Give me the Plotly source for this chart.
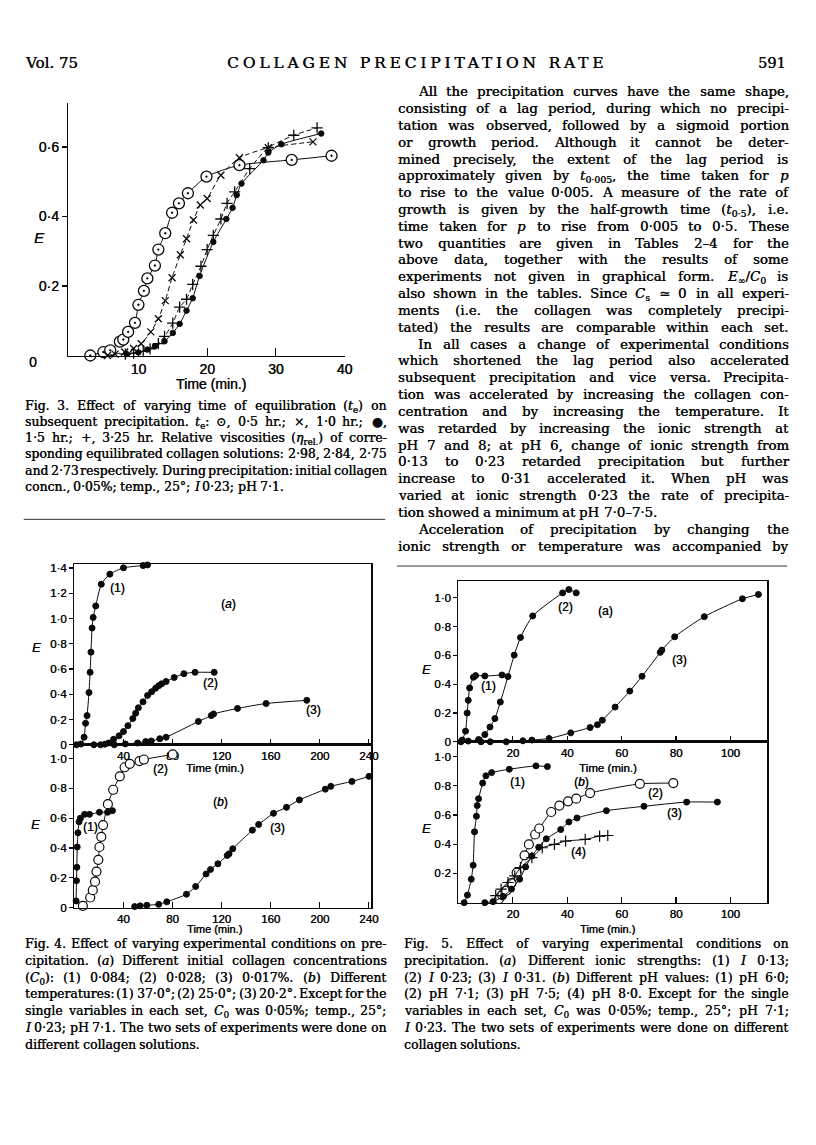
import re
import glob
import struct
import plotly.graph_objects as go

W, H = 816, 1145

# ================= DATA =================
# Fig. 3  -- time (min) vs E, four equilibration times
f3_t_05 = [3.0, 4.9, 5.9, 7.3, 7.8, 8.5, 9.5, 10.0, 10.8, 11.3, 12.4, 12.9, 13.9, 14.9, 15.9, 17.2, 19.9, 24.7, 32.3, 38.1]
f3_E_05 = [0.0, 0.010, 0.015, 0.040, 0.046, 0.068, 0.094, 0.146, 0.186, 0.222, 0.259, 0.305, 0.352, 0.411, 0.438, 0.467, 0.515, 0.548, 0.563, 0.575]
f3_t_10 = [5.5, 6.6, 8.0, 9.3, 10.4, 11.8, 12.9, 13.9, 14.9, 16.1, 17.0, 18.0, 19.0, 20.0, 22.0, 24.7, 28.9, 35.4]
f3_E_10 = [0.0, 0.004, 0.010, 0.020, 0.034, 0.068, 0.106, 0.158, 0.224, 0.290, 0.336, 0.390, 0.433, 0.452, 0.519, 0.569, 0.598, 0.615]
f3_t_15 = [8.3, 10.0, 11.3, 12.4, 13.8, 15.0, 16.0, 17.0, 17.9, 18.9, 20.9, 22.8, 23.7, 24.3, 25.0, 28.2, 28.9, 30.8, 36.6]
f3_E_15 = [0.004, 0.009, 0.017, 0.027, 0.041, 0.065, 0.091, 0.129, 0.165, 0.229, 0.327, 0.393, 0.425, 0.462, 0.495, 0.562, 0.584, 0.608, 0.639]
f3_t_325 = [8.1, 9.3, 10.7, 11.7, 12.9, 13.8, 15.0, 16.0, 17.0, 17.9, 19.1, 20.0, 20.9, 22.0, 22.9, 24.0, 26.2, 28.9, 32.6, 36.0]
f3_E_325 = [0.004, 0.007, 0.012, 0.019, 0.034, 0.055, 0.093, 0.139, 0.162, 0.205, 0.257, 0.305, 0.346, 0.393, 0.438, 0.471, 0.538, 0.598, 0.634, 0.655]

# Fig. 4 (a) -- collagen concentrations
f4a_t1 = [1.8, 5.4, 8.0, 9.2, 10.4, 12.0, 12.9, 13.6, 14.5, 15.4, 17.5, 22.0, 29.0, 40.1, 56.1, 59.7]
f4a_E1 = [0.0, 0.006, 0.06, 0.17, 0.231, 0.414, 0.574, 0.734, 0.925, 1.009, 1.10, 1.272, 1.352, 1.402, 1.42, 1.425]
f4a_t2 = [16.0, 21.4, 25.0, 28.0, 32.0, 36.5, 40.1, 43.7, 47.7, 50.0, 52.2, 56.0, 59.7, 63.0, 66.3, 68.8, 71.2, 74.8, 81.4, 89.3, 98.4, 114.0]
f4a_E2 = [0.0, 0.0, 0.005, 0.014, 0.043, 0.071, 0.105, 0.151, 0.208, 0.25, 0.293, 0.34, 0.391, 0.42, 0.448, 0.468, 0.483, 0.501, 0.533, 0.563, 0.574, 0.574]
f4a_t3 = [32.6, 41.6, 51.6, 58.2, 62.7, 69.7, 74.8, 101.1, 111.6, 113.5, 133.0, 156.3, 189.4]
f4a_E3 = [0.0, 0.007, 0.014, 0.025, 0.03, 0.048, 0.06, 0.185, 0.231, 0.244, 0.288, 0.327, 0.352]

# Fig. 4 (b) -- temperatures
f4b_t1 = [1.5, 1.8, 2.1, 2.4, 3.0, 3.9, 5.0, 8.4, 12.4, 20.5, 27.1, 31.1]
f4b_E1 = [0.045, 0.181, 0.271, 0.407, 0.502, 0.576, 0.60, 0.626, 0.626, 0.64, 0.64, 0.651]
f4b_t2 = [7.0, 13.0, 15.1, 16.9, 18.1, 19.6, 20.5, 22.0, 23.5, 27.4, 31.7, 37.1, 41.0, 45.2, 53.1, 56.7, 80.2]
f4b_E2 = [0.012, 0.068, 0.117, 0.174, 0.242, 0.321, 0.407, 0.475, 0.554, 0.694, 0.791, 0.881, 0.942, 0.965, 0.983, 0.994, 1.028]
f4b_t3 = [49.2, 53.7, 59.1, 68.8, 75.4, 91.4, 98.9, 107.4, 111.0, 117.0, 124.6, 126.1, 129.1, 145.1, 150.2, 162.3, 172.9, 183.4, 204.5, 209.0, 226.2, 240.1]
f4b_E3 = [0.007, 0.012, 0.016, 0.022, 0.039, 0.09, 0.142, 0.226, 0.256, 0.294, 0.35, 0.361, 0.395, 0.52, 0.558, 0.633, 0.673, 0.723, 0.795, 0.814, 0.847, 0.881]

# Fig. 5 (a) -- ionic strengths
f5a_t1 = [1.4, 2.6, 3.2, 3.6, 4.1, 5.5, 6.3, 9.7, 16.0]
f5a_E1 = [0.012, 0.074, 0.2, 0.288, 0.374, 0.448, 0.46, 0.457, 0.464]
f5a_t2 = [0.9, 3.6, 7.4, 9.7, 11.6, 13.4, 15.4, 18.2, 20.5, 22.8, 27.3, 38.3, 40.6, 43.3]
f5a_E2 = [0.0, 0.005, 0.016, 0.05, 0.103, 0.161, 0.276, 0.453, 0.602, 0.724, 0.874, 1.034, 1.057, 1.034]
f5a_t3 = [8.3, 11.7, 17.6, 23.7, 27.0, 33.3, 41.3, 48.4, 51.1, 52.9, 57.6, 63.0, 67.5, 74.2, 74.8, 79.5, 90.4, 104.4, 110.3]
f5a_E3 = [0.0, 0.0, 0.0, 0.007, 0.012, 0.023, 0.062, 0.099, 0.119, 0.15, 0.241, 0.352, 0.455, 0.621, 0.637, 0.729, 0.869, 0.993, 1.023]

# Fig. 5 (b) -- pH values
f5b_t1 = [2.1, 3.3, 4.7, 5.4, 5.9, 6.6, 6.9, 7.4, 8.9, 10.1, 12.2, 18.7, 28.5, 32.7]
f5b_E1 = [0.0, 0.052, 0.161, 0.256, 0.485, 0.592, 0.665, 0.712, 0.819, 0.869, 0.891, 0.914, 0.937, 0.932]
f5b_t2 = [14.9, 16.1, 17.6, 19.5, 21.4, 24.3, 25.9, 28.2, 29.7, 34.1, 37.1, 40.3, 43.3, 48.4, 66.7, 79.0]
f5b_E2 = [0.025, 0.052, 0.082, 0.134, 0.206, 0.324, 0.399, 0.467, 0.508, 0.621, 0.665, 0.694, 0.712, 0.751, 0.814, 0.819]
f5b_t3 = [9.7, 12.7, 16.4, 19.5, 22.5, 24.7, 27.0, 29.5, 32.3, 37.6, 40.6, 43.6, 54.4, 68.2, 83.9, 95.2]
f5b_E3 = [0.0, 0.007, 0.043, 0.093, 0.161, 0.245, 0.32, 0.38, 0.437, 0.501, 0.553, 0.58, 0.63, 0.66, 0.689, 0.689]
f5b_t4 = [13.7, 15.7, 18.2, 20.7, 22.8, 27.0, 30.8, 35.3, 39.4, 46.6, 51.9, 54.9]
f5b_E4 = [0.048, 0.093, 0.138, 0.184, 0.24, 0.308, 0.376, 0.399, 0.422, 0.433, 0.456, 0.46]

# tick values
f3_xticks = [10, 20, 30, 40]
f3_yticks = [0.2, 0.4, 0.6]
f4_xticks = [40, 80, 120, 160, 200, 240]
f4a_yticks = [0, 0.2, 0.4, 0.6, 0.8, 1.0, 1.2, 1.4]
f4b_yticks = [0, 0.2, 0.4, 0.6, 0.8, 1.0]
f5_xticks = [20, 40, 60, 80, 100]
f5a_yticks = [0, 0.2, 0.4, 0.6, 0.8, 1.0]
f5b_yticks = [0.2, 0.4, 0.6, 0.8, 1.0]

# ================= TEXT =================
HEAD_LEFT = "Vol. 75"
HEAD_TITLE = "COLLAGEN PRECIPITATION RATE"
HEAD_PAGE = "591"

BODY = [
    "All the precipitation curves have the same shape,",
    "consisting of a lag period, during which no precipi-",
    "tation was observed, followed by a sigmoid portion",
    "or growth period. Although it cannot be deter-",
    "mined precisely, the extent of the lag period is",
    "approximately given by <i>t</i><sub>0·005</sub>, the time taken for <i>p</i>",
    "to rise to the value 0·005. A measure of the rate of",
    "growth is given by the half-growth time (<i>t</i><sub>0·5</sub>), i.e.",
    "time taken for <i>p</i> to rise from 0·005 to 0·5. These",
    "two quantities are given in Tables 2–4 for the",
    "above data, together with the results of some",
    "experiments not given in graphical form. <i>E</i><sub>∞</sub>/<i>C</i><sub>0</sub> is",
    "also shown in the tables. Since <i>C</i><sub>s</sub> ≃ 0 in all experi-",
    "ments (i.e. the collagen was completely precipi-",
    "tated) the results are comparable within each set.",
    "In all cases a change of experimental conditions",
    "which shortened the lag period also accelerated",
    "subsequent precipitation and vice versa. Precipita-",
    "tion was accelerated by increasing the collagen con-",
    "centration and by increasing the temperature. It",
    "was retarded by increasing the ionic strength at",
    "pH 7 and 8; at pH 6, change of ionic strength from",
    "0·13 to 0·23 retarded precipitation but further",
    "increase to 0·31 accelerated it. When pH was",
    "varied at ionic strength 0·23 the rate of precipita-",
    "tion showed a minimum at pH 7·0–7·5.",
    "Acceleration of precipitation by changing the",
    "ionic strength or temperature was accompanied by",
]
BODY_INDENT = {0, 15, 26}
BODY_LAST = {25}

CAP3 = [
    "Fig. 3. Effect of varying time of equilibration (<i>t</i><sub>e</sub>) on",
    "subsequent precipitation. <i>t</i><sub>e</sub>: ⊙, 0·5 hr.; ×, 1·0 hr.; ●,",
    "1·5 hr.; +, 3·25 hr. Relative viscosities (<i>η</i><sub>rel.</sub>) of corre-",
    "sponding equilibrated collagen solutions: 2·98, 2·84, 2·75",
    "and 2·73 respectively. During precipitation: initial collagen",
    "concn., 0·05%; temp., 25°; <i>I</i> 0·23; pH 7·1.",
]
CAP4 = [
    "Fig. 4. Effect of varying experimental conditions on pre-",
    "cipitation. (<i>a</i>) Different initial collagen concentrations",
    "(<i>C</i><sub>0</sub>): (1) 0·084; (2) 0·028; (3) 0·017%. (<i>b</i>) Different",
    "temperatures: (1) 37·0°; (2) 25·0°; (3) 20·2°. Except for the",
    "single variables in each set, <i>C</i><sub>0</sub> was 0·05%; temp., 25°;",
    "<i>I</i> 0·23; pH 7·1. The two sets of experiments were done on",
    "different collagen solutions.",
]
CAP5 = [
    "Fig. 5. Effect of varying experimental conditions on",
    "precipitation. (<i>a</i>) Different ionic strengths: (1) <i>I</i> 0·13;",
    "(2) <i>I</i> 0·23; (3) <i>I</i> 0·31. (<i>b</i>) Different pH values: (1) pH 6·0;",
    "(2) pH 7·1; (3) pH 7·5; (4) pH 8·0. Except for the single",
    "variables in each set, <i>C</i><sub>0</sub> was 0·05%; temp., 25°; pH 7·1;",
    "<i>I</i> 0·23. The two sets of experiments were done on different",
    "collagen solutions.",
]

# ================= font metrics (for justified text) =================
def _parse_ttf(path):
    data = open(path, 'rb').read()
    num = struct.unpack('>H', data[4:6])[0]
    tables = {}
    for i in range(num):
        tag, _, off, _ln = struct.unpack('>4sIII', data[12 + 16 * i:28 + 16 * i])
        tables[tag] = off
    head = tables[b'head']
    upem = struct.unpack('>H', data[head + 18:head + 20])[0]
    hhea = tables[b'hhea']
    nhm = struct.unpack('>H', data[hhea + 34:hhea + 36])[0]
    hmtx = tables[b'hmtx']
    adv = [struct.unpack('>H', data[hmtx + 4 * i:hmtx + 4 * i + 2])[0] for i in range(nhm)]
    cmap = tables[b'cmap']
    nsub = struct.unpack('>H', data[cmap + 2:cmap + 4])[0]
    o = None
    for i in range(nsub):
        pid, eid, off = struct.unpack('>HHI', data[cmap + 4 + 8 * i:cmap + 12 + 8 * i])
        fmt = struct.unpack('>H', data[cmap + off:cmap + off + 2])[0]
        if fmt == 4 and pid in (0, 3):
            o = cmap + off
            break
    segx2 = struct.unpack('>H', data[o + 6:o + 8])[0]
    seg = segx2 // 2
    ends = struct.unpack('>%dH' % seg, data[o + 14:o + 14 + segx2])
    starts = struct.unpack('>%dH' % seg, data[o + 16 + segx2:o + 16 + 2 * segx2])
    deltas = struct.unpack('>%dh' % seg, data[o + 16 + 2 * segx2:o + 16 + 3 * segx2])
    ro_pos = o + 16 + 3 * segx2
    ros = struct.unpack('>%dH' % seg, data[ro_pos:ro_pos + segx2])

    def gid(c):
        for i in range(seg):
            if ends[i] >= c:
                if starts[i] > c:
                    return 0
                if ros[i] == 0:
                    return (c + deltas[i]) & 0xFFFF
                p = ro_pos + 2 * i + ros[i] + 2 * (c - starts[i])
                g = struct.unpack('>H', data[p:p + 2])[0]
                return (g + deltas[i]) & 0xFFFF if g else 0
        return 0

    cache = {}

    def width(ch):
        c = ord(ch)
        if c not in cache:
            g = gid(c) if c <= 0xFFFF else 0
            cache[c] = adv[min(g, nhm - 1)] / upem if g else 0.6
        return cache[c]
    return width


def _find_font(names):
    for n in names:
        for root in ('/usr/share/fonts', '/usr/local/share/fonts'):
            for p in glob.glob(root + '/**/' + n, recursive=True):
                try:
                    return _parse_ttf(p)
                except Exception:
                    pass
    return None


SERIF = "DejaVu Serif"
SANS = "Liberation Sans"
_w = _find_font(['DejaVuSerif.ttf'])
if _w is None:
    _w = lambda ch: 0.32 if ch == ' ' else 0.56
SERIF_W = _w

TAG = re.compile(r'(<[^>]+>)')


def text_em(s):
    scale, w = 1.0, 0.0
    for tok in TAG.split(s):
        if not tok:
            continue
        if tok.startswith('<'):
            t = tok.lower()
            if t in ('<sub>', '<sup>'):
                scale = 0.7
            elif t in ('</sub>', '</sup>'):
                scale = 1.0
            continue
        for ch in tok:
            w += SERIF_W(ch) * scale
    return w


INK = '#0a0a0a'
HEAVY = '0.35px 0px 0px #0a0a0a'
anns = []
shapes = []


def P(x, y):
    return x / W, 1 - y / H


def block(lines, x0, x1, y0, dy, max_size, indents=(), indent=0, last=None, min_space=0.4):
    """Justified block; each line uses max_size unless it cannot fit."""
    if last is None:
        last = {len(lines) - 1}
    for i, ln in enumerate(lines):
        words = ln.split(' ')
        ind = indent if i in indents else 0
        avail = x1 - x0 - ind
        em_words = sum(text_em(w) for w in words)
        em_min = em_words + (len(words) - 1) * SERIF_W(' ') * min_space
        size = min(max_size, avail / em_min)
        sp = SERIF_W(' ') * size
        ws = [text_em(w) * size for w in words]
        if i not in last and len(words) > 1:
            gap = max((avail - sum(ws)) / (len(words) - 1), sp * min_space)
        else:
            gap = sp
        x = x0 + ind
        yc = y0 + i * dy
        for w, wd in zip(words, ws):
            xx, yy = P(x, yc - 0.62 * max_size)
            anns.append(dict(text=w, x=xx, y=yy, xref='paper', yref='paper',
                             xanchor='left', yanchor='top', showarrow=False, borderpad=0,
                             font=dict(family=SERIF, size=size, color=INK, shadow=HEAVY)))
            x += wd + gap


def label(text, x, y, size, family=SANS, xanchor='center', xref='paper', yref='paper'):
    if xref == 'paper':
        x, y = P(x, y)
    anns.append(dict(text=text, x=x, y=y, xref=xref, yref=yref, xanchor=xanchor,
                     yanchor='middle', showarrow=False, borderpad=0,
                     font=dict(family=family, size=size, color=INK, shadow=HEAVY)))


# ---------- header ----------
HEAD_Y = 61
label(HEAD_LEFT, 24, HEAD_Y, 15, SERIF, 'left')
label('<span style="letter-spacing:3.8px">' + HEAD_TITLE + '</span>', 421, HEAD_Y, 15.5, SERIF)
anns.append(dict(text=HEAD_PAGE, x=P(795, 0)[0], y=P(0, HEAD_Y)[1], xref='paper', yref='paper',
                 xanchor='right', yanchor='middle', showarrow=False, borderpad=0,
                 font=dict(family=SERIF, size=14.5, color=INK, shadow=HEAVY)))

# ---------- body & captions ----------
COL_L = (24, 389)
COL_R = (401, 795)
block(BODY, COL_R[0], COL_R[1], 90, 16.95, 13.3, BODY_INDENT, 20, BODY_LAST)
block(CAP3, COL_L[0], COL_L[1], 405, 16.4, 12.4)
block(CAP4, COL_L[0], COL_L[1], 947, 17.0, 12.4)
block(CAP5, COL_R[0] + 6, COL_R[1], 947, 17.0, 12.4)

for (xa, xb, yy) in [(24, 389, 521), (401, 795, 568)]:
    shapes.append(dict(type='line', xref='paper', yref='paper', x0=xa / W, x1=xb / W,
                       y0=1 - yy / H, y1=1 - yy / H, line=dict(color='#333', width=1)))

# ================= axes =================
def xdom(a, b):
    return [a / W, b / W]


def ydom(top, bottom):
    return [1 - bottom / H, 1 - top / H]


def fmt(v):
    if v == 0:
        return '0'
    if float(v).is_integer() and v >= 5:
        return str(int(v))
    return ('%.1f' % v).replace('.', '·')


def axis(domain, rng, anchor, tickvals, ticks, ticklen, mirror, fs, lw=1.3):
    return dict(domain=domain, range=rng, anchor=anchor, showline=True, linecolor=INK,
                linewidth=lw, mirror=mirror, ticks=ticks, ticklen=ticklen, tickwidth=1.2,
                tickcolor=INK, tickvals=tickvals, ticktext=[fmt(v) for v in tickvals],
                tickfont=dict(family=SANS, size=fs, color=INK, shadow=HEAVY), showgrid=False,
                zeroline=False, fixedrange=True)


layout = dict(width=W, height=H, margin=dict(l=0, r=0, t=0, b=0), showlegend=False,
              paper_bgcolor='white', plot_bgcolor='rgba(0,0,0,0)')

# Fig 3
layout['xaxis'] = axis(xdom(69, 348), [-0.2, 40], 'y', f3_xticks, 'inside', 8, False, 14, 1.6)
layout['yaxis'] = axis(ydom(102, 356), [0, 0.726], 'x', f3_yticks, 'outside', 5, False, 14, 1.6)
# Fig 4
F4L, F4R, F4T, F4M, F4B = 75, 375, 566, 748, 912
layout['xaxis2'] = axis(xdom(F4L, F4R), [0, 242], 'y2', f4_xticks, 'inside', 6, True, 11.5)
layout['yaxis2'] = axis(ydom(F4T, F4M), [0, 1.432], 'x2', f4a_yticks, 'outside', 4, True, 11.5)
layout['xaxis3'] = axis(xdom(F4L, F4R), [0, 242], 'y3', f4_xticks, 'inside', 6, True, 11.5)
layout['yaxis3'] = axis(ydom(F4M, F4B), [0, 1.093], 'x3', f4b_yticks, 'outside', 4, True, 11.5)
# Fig 5
F5L, F5R, F5T, F5M, F5B = 463, 775, 583, 745, 907
layout['xaxis4'] = axis(xdom(F5L, F5R), [0, 113.6], 'y4', f5_xticks, 'inside', 6, True, 11.5)
layout['yaxis4'] = axis(ydom(F5T, F5M), [0, 1.117], 'x4', f5a_yticks, 'outside', 4, True, 11.5)
layout['xaxis5'] = axis(xdom(F5L, F5R), [0, 113.6], 'y5', f5_xticks, 'inside', 6, True, 11.5)
layout['yaxis5'] = axis(ydom(F5M, F5B), [0, 1.102], 'x5', f5b_yticks, 'outside', 4, True, 11.5)

# ================= traces =================
def curve(x, y, ax, symbol, size, fill, dash='solid', lw=1.0, mlw=1.0):
    return go.Scatter(x=x, y=y, xaxis='x' + ax, yaxis='y' + ax, mode='lines+markers',
                      line=dict(color=INK, width=lw, dash=dash, shape='spline', smoothing=0.6),
                      marker=dict(symbol=symbol, size=size, color=fill,
                                  line=dict(color=INK, width=mlw)),
                      cliponaxis=False, showlegend=False, hoverinfo='skip')


DOT = 6
OPEN = 9
traces = [
    curve(f3_t_05, f3_E_05, '', 'circle-dot', 11, 'white', mlw=1.3),
    curve(f3_t_10, f3_E_10, '', 'x-thin-open', 7, INK, '5px,3px', mlw=1.3),
    curve(f3_t_15, f3_E_15, '', 'circle', 5.5, INK),
    curve(f3_t_325, f3_E_325, '', 'cross-thin-open', 8, INK, '5px,3px', mlw=1.3),

    curve(f4a_t1, f4a_E1, '2', 'circle', DOT, INK),
    curve(f4a_t2, f4a_E2, '2', 'circle', DOT, INK),
    curve(f4a_t3, f4a_E3, '2', 'circle', DOT, INK),
    curve(f4b_t1, f4b_E1, '3', 'circle', DOT, INK),
    curve(f4b_t2, f4b_E2, '3', 'circle', OPEN, 'white', mlw=1.2),
    curve(f4b_t3, f4b_E3, '3', 'circle', DOT, INK),

    curve(f5a_t1, f5a_E1, '4', 'circle', DOT, INK),
    curve(f5a_t2, f5a_E2, '4', 'circle', DOT, INK),
    curve(f5a_t3, f5a_E3, '4', 'circle', DOT, INK),
    curve(f5b_t1, f5b_E1, '5', 'circle', DOT, INK),
    curve(f5b_t2, f5b_E2, '5', 'circle', OPEN, 'white', mlw=1.2),
    curve(f5b_t3, f5b_E3, '5', 'circle', DOT, INK),
    curve(f5b_t4, f5b_E4, '5', 'cross-thin-open', 8, INK, mlw=1.2),
]

# ================= figure labels =================
label('<i>E</i>', 40, 237, 15)
label('0', 33, 363, 14)
label('Time (min.)', 213, 385, 14)

label('<i>E</i>', 37, 650, 13)
label('<i>E</i>', 36, 828, 13)
label('Time (min.)', 217, 771, 11.5)
label('Time (min.)', 217, 934, 11)
for txt, x, y, ax in [('(1)', 35.3, 1.242, '2'), ('(<i>a</i>)', 125.5, 1.119, '2'),
                      ('(2)', 110.8, 0.487, '2'), ('(3)', 194.8, 0.272, '2'),
                      ('(1)', 12.9, 0.542, '3'), ('(2)', 70.0, 0.93, '3'),
                      ('(<i>b</i>)', 119.5, 0.712, '3'), ('(3)', 165.9, 0.536, '3'),
                      ('(2)', 39.5, 0.938, '4'), ('(a)', 54.2, 0.91, '4'),
                      ('(3)', 81.3, 0.566, '4'), ('(1)', 10.9, 0.386, '4'),
                      ('(1)', 21.7, 0.83, '5'), ('(<i>b</i>)', 45.1, 0.83, '5'),
                      ('(2)', 72.4, 0.748, '5'), ('(3)', 79.6, 0.612, '5'),
                      ('(4)', 44.3, 0.347, '5')]:
    label(txt, x, y, 12, SANS, 'center', 'x' + ax, 'y' + ax)

label('<i>E</i>', 431, 672, 13)
label('<i>E</i>', 431, 832, 13)
label('Time (min.)', 614, 771, 11.5)
label('Time (min.)', 614, 934, 11)

layout['annotations'] = anns
layout['shapes'] = shapes

fig = go.Figure(data=traces, layout=layout)
fig.write_html("out.html", config={'displayModeBar': False, 'staticPlot': True},
               post_script="document.body.style.margin='0';document.body.style.overflow='hidden';")
